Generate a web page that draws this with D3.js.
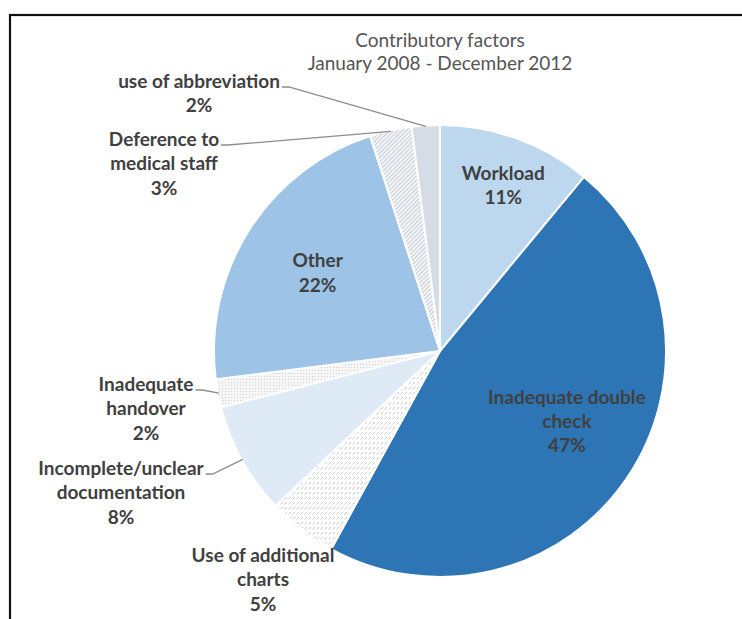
<!DOCTYPE html>
<html>
<head>
<meta charset="utf-8">
<script src="https://cdn.jsdelivr.net/npm/d3@7"></script>
<style>
  html, body { margin: 0; padding: 0; background: #fff; }
  svg { display: block; }
</style>
</head>
<body>
<svg id="chart" width="742" height="619"></svg>
<script>
// ---- data ----
const categories = ["Workload", "Inadequate double check", "Use of additional charts",
  "Incomplete/unclear documentation", "Inadequate handover", "Other",
  "Deference to medical staff", "use of abbreviation"];
const values = [11, 47, 5, 8, 2, 22, 3, 2];
const labelLines = [
  ["Workload", "11%"],
  ["Inadequate double", "check", "47%"],
  ["Use of additional", "charts", "5%"],
  ["Incomplete/unclear", "documentation", "8%"],
  ["Inadequate", "handover", "2%"],
  ["Other", "22%"],
  ["Deference to", "medical staff", "3%"],
  ["use of abbreviation", "2%"]
];
const titleLines = ["Contributory factors", "January 2008 - December 2012"];

// ---- layout / style ----
const svg = d3.select("#chart");
const cx = 440, cy = 351, R = 226;
const font = "Lato, 'Open Sans', sans-serif";
const textColor = "#404040";

const defs = svg.append("defs");
// hatched / dotted fills
const p1 = defs.append("pattern").attr("id", "pCharts").attr("patternUnits", "userSpaceOnUse")
  .attr("width", 4).attr("height", 5);
p1.append("rect").attr("width", 4).attr("height", 5).attr("fill", "#fff");
p1.append("line").attr("x1", 0.5).attr("y1", 3.5).attr("x2", 3).attr("y2", 1)
  .attr("stroke", "#c9c9c9").attr("stroke-width", 0.9);
const p2 = defs.append("pattern").attr("id", "pDots").attr("patternUnits", "userSpaceOnUse")
  .attr("width", 3).attr("height", 3);
p2.append("rect").attr("width", 3).attr("height", 3).attr("fill", "#f6f6f6");
p2.append("rect").attr("x", 1).attr("y", 1).attr("width", 1).attr("height", 1).attr("fill", "#cfcfcf");
const p3 = defs.append("pattern").attr("id", "pDiag").attr("patternUnits", "userSpaceOnUse")
  .attr("width", 3).attr("height", 3).attr("patternTransform", "rotate(-45)");
p3.append("rect").attr("width", 3).attr("height", 3).attr("fill", "#f4f5f7");
p3.append("line").attr("x1", 0).attr("y1", 0.5).attr("x2", 3).attr("y2", 0.5)
  .attr("stroke", "#c6ccd4").attr("stroke-width", 1);

const fills = ["#BDD7EE", "#2E75B6", "url(#pCharts)", "#DEEBF7", "url(#pDots)",
  "#9DC3E6", "url(#pDiag)", "#D6DCE5"];

// frame
svg.append("rect").attr("x", 10).attr("y", 15).attr("width", 800).attr("height", 700)
  .attr("fill", "none").attr("stroke", "#111").attr("stroke-width", 2.2);

// title
svg.append("text").attr("x", cx).attr("y", 47).attr("text-anchor", "middle")
  .attr("font-family", font).attr("font-size", 19).attr("fill", "#555")
  .selectAll("tspan").data(titleLines).join("tspan")
  .attr("x", cx).attr("dy", (d, i) => i ? 23 : 0).text(d => d);

// pie
const data = categories.map((c, i) => ({ cat: c, value: values[i], idx: i }));
const pie = d3.pie().value(d => d.value).sort(null);
const arcs = pie(data);
const arc = d3.arc().innerRadius(0).outerRadius(R);
const g = svg.append("g").attr("transform", `translate(${cx},${cy})`);
g.selectAll("path").data(arcs).join("path")
  .attr("d", arc)
  .attr("fill", d => fills[d.data.idx])
  .attr("stroke", "#fff").attr("stroke-width", 2);

// label placement (inside labels: polar offsets; outside labels: anchored text)
const inside = { 0: { r: 178, dy: -10, dx: 3 }, 1: { r: 145, dy: -35, dx: 7 }, 5: { r: 145, dy: -12, dx: 0 } };
const outside = {
  2: { x: 263, y: 562 },
  3: { x: 121, y: 475 },
  4: { x: 146, y: 391 },
  6: { x: 164, y: 146 },
  7: { x: 199, y: 88 }
};
const lineH = 24.3;

function polar(a, r) { return [Math.sin(a) * r, -Math.cos(a) * r]; }

arcs.forEach(a => {
  const i = a.data.idx;
  const lines = labelLines[i];
  let x, y;
  if (inside[i]) {
    const mid = (a.startAngle + a.endAngle) / 2;
    const p = polar(mid, inside[i].r);
    x = cx + p[0] + inside[i].dx; y = cy + p[1] + inside[i].dy + 6;
  } else {
    x = outside[i].x; y = outside[i].y;
  }
  const t = svg.append("text").attr("text-anchor", "middle")
    .attr("font-family", font).attr("font-weight", "bold").attr("font-size", 19)
    .attr("fill", textColor);
  lines.forEach((s, k) => t.append("tspan").attr("x", x).attr("y", y + k * lineH).text(s));

  if (!inside[i] && i !== 2) {
    // leader line from end of first line to the slice's outer edge
    const w = t.select("tspan").node().getComputedTextLength();
    const sx = x + w / 2 + 2, sy = y - 1;
    const mid = (a.startAngle + a.endAngle) / 2;
    const e = polar(mid, R - 1);
    svg.append("polyline")
      .attr("points", `${sx},${sy} ${sx + 7},${sy} ${cx + e[0]},${cy + e[1]}`)
      .attr("fill", "none").attr("stroke", "#8c8c8c").attr("stroke-width", 1.3);
  }
});
</script>
</body>
</html>
